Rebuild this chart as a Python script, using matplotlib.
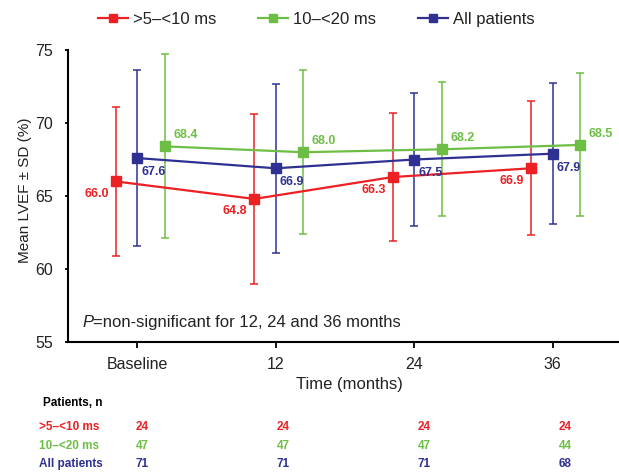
import matplotlib
matplotlib.use('Agg')
import matplotlib.pyplot as plt
import numpy as np

# colours
red = '#ED2024'
green = '#6DBE45'
blue = '#2E3192'

font = ['Liberation Sans', 'DejaVu Sans']
txt = '#222222'

# data
timepoints = ['Baseline', '12', '24', '36']
series_names = ['>5\u2013<10 ms', '10\u2013<20 ms', 'All patients']

red_mean = [66.0, 64.8, 66.3, 66.9]
red_sd = [5.1, 5.8, 4.4, 4.6]
green_mean = [68.4, 68.0, 68.2, 68.5]
green_sd = [6.3, 5.6, 4.6, 4.9]
blue_mean = [67.6, 66.9, 67.5, 67.9]
blue_sd = [6.0, 5.8, 4.55, 4.85]

red_n = [24, 24, 24, 24]
green_n = [47, 47, 47, 44]
blue_n = [71, 71, 71, 68]

fig = plt.figure(figsize=(6.19, 4.72), dpi=100)
ax = fig.add_axes([0.110, 0.2754, 0.89, 0.6186])

x = np.arange(len(timepoints))
series = [
    (red_mean, red_sd, red, -0.155, series_names[0], (-5, -9), 'right'),
    (green_mean, green_sd, green, 0.2, series_names[1], (6, 8), 'left'),
    (blue_mean, blue_sd, blue, 0.0, series_names[2], (3, -10), 'left'),
]

handles = []
for mean, sd, col, off, name, toff, ha in series:
    xs = x + off
    ax.errorbar(xs, mean, yerr=sd, fmt='none', ecolor=col, elinewidth=1.1,
                capsize=2.6, capthick=1.1, zorder=2)
    h, = ax.plot(xs, mean, color=col, lw=1.6, marker='s', markersize=7.5,
                 zorder=3, label=name)
    handles.append(h)
    for xi, yi in zip(xs, mean):
        ax.annotate(f'{yi:.1f}', (xi, yi), textcoords='offset points', xytext=toff,
                    ha=ha, va='center', color=col, fontsize=9, fontweight='bold',
                    family=font)

ax.set_xlim(-0.5, 3.48)
ax.set_ylim(55, 75)
ax.set_yticks([55, 60, 65, 70, 75])
ax.set_xticks(x)
ax.set_xticklabels(timepoints)
for lab in ax.get_yticklabels():
    lab.set_family(font)
    lab.set_fontsize(11.5)
    lab.set_color(txt)
for lab in ax.get_xticklabels():
    lab.set_family(font)
    lab.set_fontsize(11.5)
    lab.set_color(txt)
ax.tick_params(axis='y', length=2.5, width=1.3, pad=8.5)
ax.tick_params(axis='x', length=4, width=1.3, pad=7)
ax.spines['top'].set_visible(False)
ax.spines['right'].set_visible(False)
ax.spines['left'].set_linewidth(1.5)
ax.spines['bottom'].set_linewidth(1.5)

ax.set_ylabel('Mean LVEF \u00b1 SD (%)', family=font, fontsize=11, color=txt, va='center')
ax.yaxis.set_label_coords(-0.078, 0.52)
ax.set_xlabel('Time (months)', family=font, fontsize=12, color=txt, va='center')
ax.xaxis.set_label_coords(0.51, -0.144)

t = ax.text(14 / 551, (342 - 322) / 292, 'P', transform=ax.transAxes, family=font,
            fontsize=12, style='italic', color=txt, va='center')
ax.annotate('=non-significant for 12, 24 and 36 months', xy=(1, 0.5), xycoords=t,
            va='center', ha='left', family=font, fontsize=12, color=txt)

fig.legend(handles=handles, loc='center', bbox_to_anchor=(0.511, 0.958), ncol=3,
           frameon=False, prop={'family': font, 'size': 12}, handlelength=1.8,
           handletextpad=0.3, columnspacing=2.5, markerscale=0.7,
           labelcolor=txt)

# patients table
fig.text(43 / 619, 1 - 403 / 472, 'Patients, n', fontsize=8.5, fontweight='bold',
         family=font, va='center', ha='left')
table_x = [142, 283, 424, 565]
rows = [(series_names[0], red_n, red, 427), (series_names[1], green_n, green, 446),
        (series_names[2], blue_n, blue, 464)]
for name, ns, col, yp in rows:
    fig.text(39 / 619, 1 - yp / 472, name, fontsize=8.5, fontweight='bold',
             family=font, color=col, va='center', ha='left')
    for xp, n in zip(table_x, ns):
        fig.text(xp / 619, 1 - yp / 472, str(n), fontsize=8.5, fontweight='bold',
                 family=font, color=col, va='center', ha='center')

fig.savefig('out.png', dpi=100)
